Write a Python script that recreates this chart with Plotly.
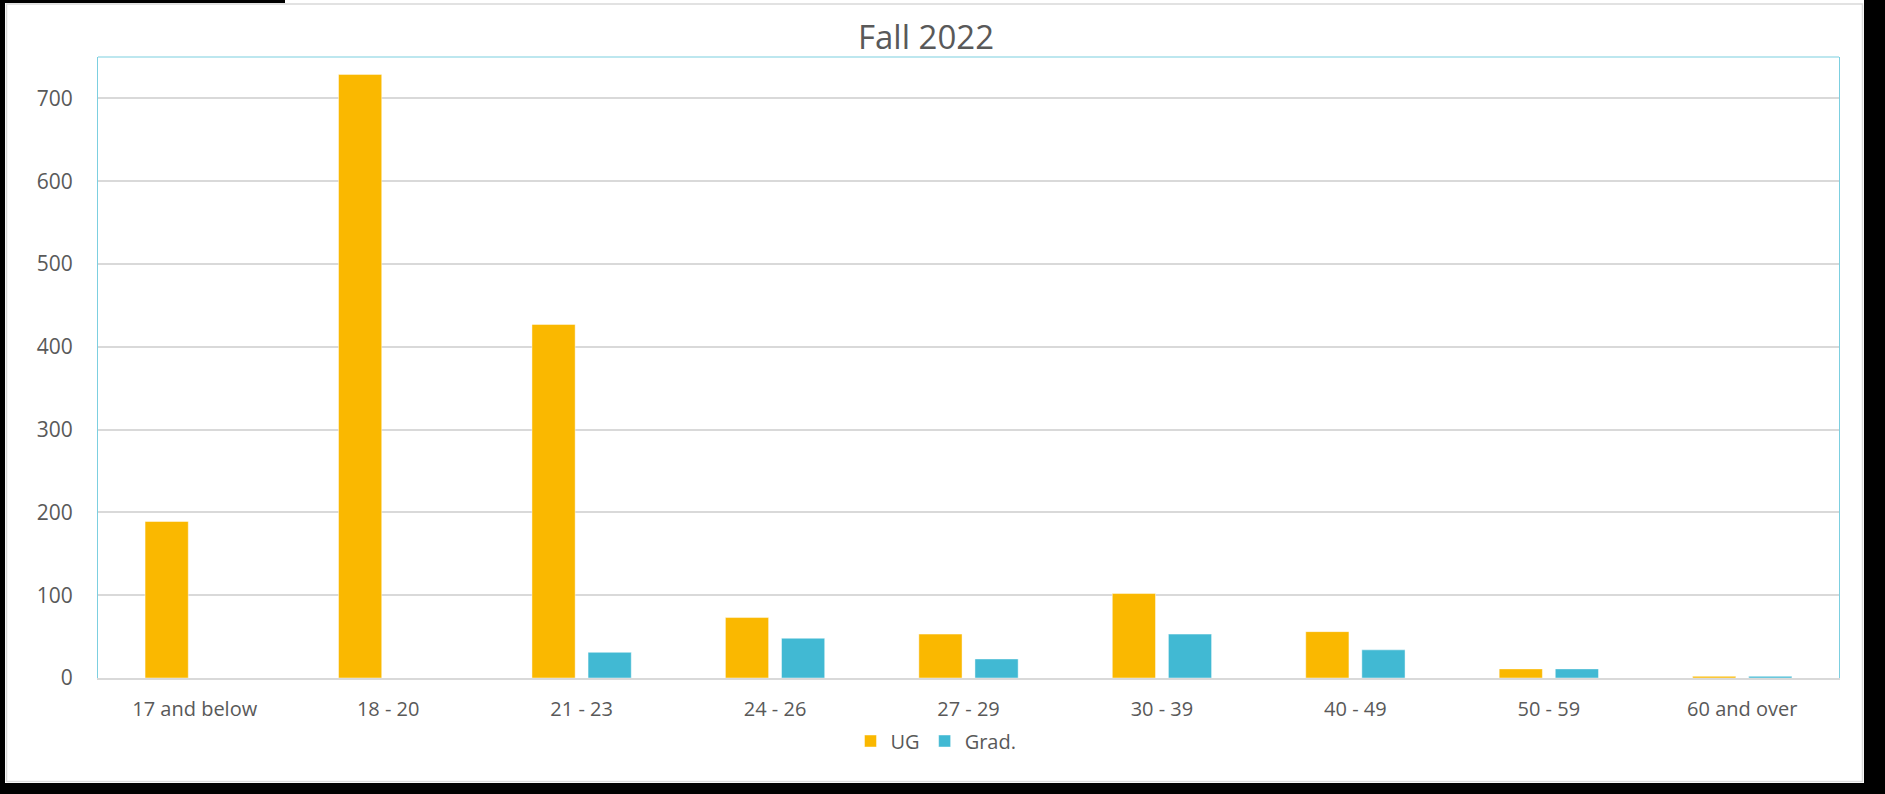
import plotly.graph_objects as go

# ---- data ----
categories = ["17 and below", "18 - 20", "21 - 23", "24 - 26", "27 - 29",
              "30 - 39", "40 - 49", "50 - 59", "60 and over"]
ug_values = [189, 729, 427, 73, 53, 102, 56, 11, 2]
grad_values = [0, 0, 31, 48, 23, 53, 34, 11, 2]
y_ticks = [0, 100, 200, 300, 400, 500, 600, 700]
title_text = "Fall 2022"

# ---- layout geometry (pixels) ----
W, H = 1885, 794
ML, MR, MT, MB = 98, 46, 57, 116
PW = W - ML - MR
PH = H - MT - MB


def px(x):
    return (x - ML) / PW


def py(y):
    return (H - MB - y) / PH


FONT = "Open Sans, Lato, sans-serif"
TXT = "#595959"
GRID = "#d9d9d9"
BLUE = "#7ccfe0"

fig = go.Figure()
fig.add_trace(go.Bar(name="UG", x=categories, y=ug_values,
                     marker=dict(color="#FAB800",
                                 line=dict(color="rgba(255,255,255,0.45)", width=1))))
fig.add_trace(go.Bar(name="Grad.", x=categories, y=grad_values,
                     marker=dict(color="#41B9D3",
                                 line=dict(color="rgba(255,255,255,0.45)", width=1))))

shapes = [
    # white chart area
    dict(type="rect", xref="paper", yref="paper", layer="below",
         x0=px(5), x1=px(1864), y0=py(783), y1=py(0),
         fillcolor="white", line=dict(width=0)),
    # black strip top-left
    dict(type="rect", xref="paper", yref="paper", layer="below",
         x0=px(0), x1=px(285), y0=py(3), y1=py(0),
         fillcolor="black", line=dict(width=0)),
    # chart border
    dict(type="rect", xref="paper", yref="paper", layer="below",
         x0=px(6.5), x1=px(1862.5), y0=py(781.5), y1=py(4),
         fillcolor="rgba(0,0,0,0)", line=dict(color=GRID, width=1.5)),
    # top border of plot area
    dict(type="line", xref="paper", yref="paper", layer="above",
         x0=0, x1=1, y0=1, y1=1, line=dict(color=BLUE, width=1.2)),
]

fig.update_layout(
    width=W, height=H,
    margin=dict(l=ML, r=MR, t=MT, b=MB),
    paper_bgcolor="black",
    plot_bgcolor="white",
    barmode="group",
    bargap=0.42,
    bargroupgap=0.23,
    font=dict(family=FONT, color=TXT, size=20),
    title=dict(text=title_text, x=926 / W, xref="container", xanchor="center",
               y=1 - 37 / H, yref="container", yanchor="middle",
               font=dict(family=FONT, size=33, color=TXT)),
    showlegend=True,
    legend=dict(orientation="h", x=px(936), xanchor="center",
                y=py(741), yanchor="middle",
                font=dict(family=FONT, size=20, color=TXT),
                bgcolor="rgba(0,0,0,0)", itemwidth=30, traceorder="normal"),
    shapes=shapes,
)

fig.update_xaxes(showgrid=False, showline=True, linecolor=GRID, linewidth=2,
                 ticks="", ticklabelstandoff=12,
                 tickfont=dict(family=FONT, size=20, color=TXT))
fig.update_yaxes(range=[0, 750], tickvals=y_ticks, showgrid=True, gridcolor=GRID,
                 gridwidth=1.8, zeroline=False, showline=True, mirror=True,
                 linecolor=BLUE, linewidth=1.2, ticks="", ticklabelstandoff=20,
                 tickfont=dict(family=FONT, size=21, color=TXT))

post = ("document.body.style.margin='0';"
        "document.body.style.padding='0';"
        "document.body.style.overflow='hidden';"
        "document.documentElement.style.background='black';")

fig.write_html("out.html", post_script=post, config={"displayModeBar": False})
